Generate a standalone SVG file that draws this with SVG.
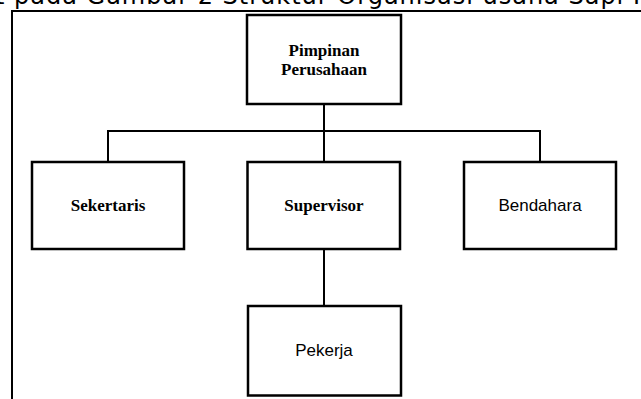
<svg xmlns="http://www.w3.org/2000/svg" width="641" height="399" viewBox="0 0 641 399">
<style>
.box{fill:#fff;stroke:#000;stroke-width:2.5}
.conn{fill:none;stroke:#000;stroke-width:2}
.serif{font-family:"Liberation Serif","Times New Roman",serif;font-weight:bold;font-size:17px;text-anchor:middle}
.sans{font-family:"Liberation Sans",Arial,sans-serif;font-size:17px;text-anchor:middle}
.title{font-family:"DejaVu Sans",Verdana,sans-serif;font-size:24px;letter-spacing:1px}
</style>
<rect width="641" height="399" fill="#fff"/>
<text class="title" x="-5" y="4">t pada Gambar 2 Struktur Organisasi usaha Sapi P</text>
<path d="M12 399 V11 H641" fill="none" stroke="#000" stroke-width="2"/>
<g id="connectors">
<path class="conn" d="M324 104 V162"/>
<path class="conn" d="M108 162 V131 H540 V162"/>
<path class="conn" d="M324 249 V306"/>
</g>
<g id="pimpinan">
<rect class="box" x="247" y="15" width="154" height="89"/>
<text class="serif" x="324" y="56">Pimpinan</text>
<text class="serif" x="324" y="75">Perusahaan</text>
</g>
<g id="sekertaris">
<rect class="box" x="32" y="162" width="152" height="87"/>
<text class="serif" x="108" y="211">Sekertaris</text>
</g>
<g id="supervisor">
<rect class="box" x="247.5" y="162" width="152.5" height="87"/>
<text class="serif" x="324" y="211">Supervisor</text>
</g>
<g id="bendahara">
<rect class="box" x="464" y="162" width="152" height="87"/>
<text class="sans" x="540" y="211">Bendahara</text>
</g>
<g id="pekerja">
<rect class="box" x="248" y="306" width="153" height="89.5"/>
<text class="sans" x="324" y="356">Pekerja</text>
</g>
</svg>
